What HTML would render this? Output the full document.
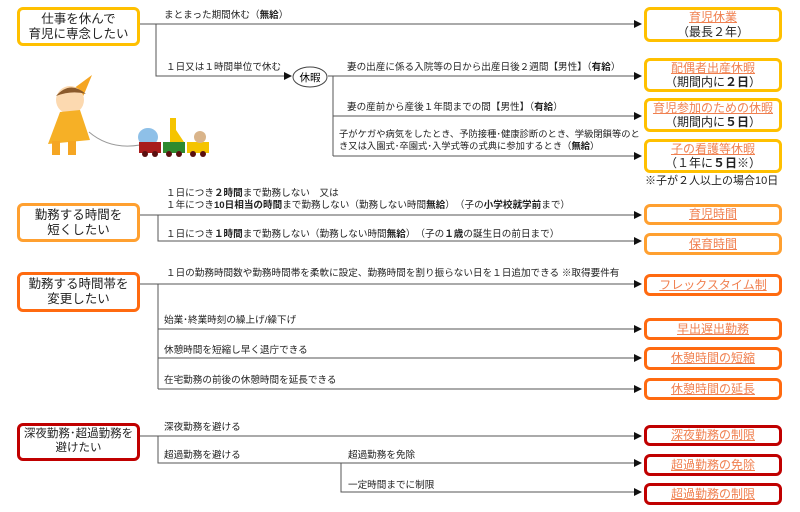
<!DOCTYPE html>
<html><head><meta charset="utf-8"><style>
body{margin:0;width:800px;height:512px;background:#fff;position:relative;overflow:hidden;font-family:"Liberation Sans","Noto Sans CJK JP",sans-serif;color:#222}
.b{position:absolute;box-sizing:border-box;border-radius:6px;background:#fff;display:flex;flex-direction:column;align-items:center;justify-content:center;text-align:center;line-height:1.2}
.L{font-size:12.5px}
.y{border:3px solid #FFC000}
.o1{border:3px solid #FFA030}
.o2{border:3px solid #FF6A10}
.r{border:3px solid #C00000}
.R{font-size:12px}
.R u{color:#F08050;text-decoration:underline}
.t{position:absolute;font-size:9.6px;white-space:nowrap;line-height:1.25}
</style></head><body>
<svg width="800" height="512" style="position:absolute;left:0;top:0">
<defs><marker id="a" markerWidth="8" markerHeight="8" refX="7" refY="4" orient="auto" markerUnits="userSpaceOnUse"><path d="M0,0 L8,4 L0,8z" fill="#111"/></marker></defs>
<g stroke="#555" stroke-width="1" fill="none">
<line x1="140" y1="24" x2="641" y2="24" marker-end="url(#a)"/>
<polyline points="156,24 156,76 291,76" marker-end="url(#a)"/>
<line x1="328" y1="76" x2="641" y2="76" marker-end="url(#a)"/>
<line x1="333" y1="76" x2="333" y2="156"/>
<line x1="333" y1="116" x2="641" y2="116" marker-end="url(#a)"/>
<line x1="333" y1="156" x2="641" y2="156" marker-end="url(#a)"/>
<line x1="140" y1="215" x2="641" y2="215" marker-end="url(#a)"/>
<polyline points="158,215 158,241 641,241" marker-end="url(#a)"/>
<line x1="140" y1="284" x2="641" y2="284" marker-end="url(#a)"/>
<line x1="158" y1="284" x2="158" y2="389"/>
<line x1="158" y1="329" x2="641" y2="329" marker-end="url(#a)"/>
<line x1="158" y1="358" x2="641" y2="358" marker-end="url(#a)"/>
<line x1="158" y1="389" x2="641" y2="389" marker-end="url(#a)"/>
<line x1="140" y1="436" x2="641" y2="436" marker-end="url(#a)"/>
<polyline points="158,436 158,463 641,463" marker-end="url(#a)"/>
<polyline points="341,463 341,492 641,492" marker-end="url(#a)"/>
</g>
<ellipse cx="310" cy="77" rx="17" ry="10" fill="#fff" stroke="#444"/>
<text x="310" y="81" font-size="10.5" text-anchor="middle" font-family="Liberation Sans,Noto Sans CJK JP,sans-serif">休暇</text>
<!-- illustration -->
<path d="M58,100 L92,75 L80,104z" fill="#F5A623"/>
<circle cx="70" cy="100" r="14" fill="#FCD9B0"/>
<path d="M56,96 Q70,80 86,94 Q72,90 56,96z" fill="#8B5A2B"/>
<path d="M60,112 L80,110 L90,140 L48,144z" fill="#F6B026"/>
<rect x="52" y="141" width="8" height="14" fill="#F5A623"/><rect x="68" y="141" width="8" height="14" fill="#F5A623"/>
<path d="M89,132 Q110,150 140,145" stroke="#999" fill="none"/>
<ellipse cx="148" cy="137" rx="10" ry="9" fill="#8EC0E8"/>
<rect x="139" y="142" width="22" height="11" fill="#A81C1C"/>
<rect x="163" y="142" width="22" height="11" fill="#2F8A2F"/>
<rect x="187" y="142" width="22" height="11" fill="#F5C400"/>
<path d="M170,142 L170,118 L176,118 L176,130 L184,142z" fill="#F5C400"/>
<circle cx="200" cy="137" r="6" fill="#D9B48A"/>
<g fill="#5a1010"><circle cx="145" cy="154" r="3"/><circle cx="155" cy="154" r="3"/><circle cx="169" cy="154" r="3"/><circle cx="179" cy="154" r="3"/><circle cx="193" cy="154" r="3"/><circle cx="203" cy="154" r="3"/></g>
</svg>

<div class="b L y" style="left:17px;top:7px;width:123px;height:39px">仕事を休んで<br>育児に専念したい</div>
<div class="b L o1" style="left:17px;top:203px;width:123px;height:39px">勤務する時間を<br>短くしたい</div>
<div class="b L o2" style="left:17px;top:272px;width:123px;height:40px">勤務する時間帯を<br>変更したい</div>
<div class="b L r" style="left:17px;top:423px;width:123px;height:38px;font-size:11.5px">深夜勤務･超過勤務を<br>避けたい</div>

<div class="b R y" style="left:644px;top:7px;width:138px;height:35px"><u>育児休業</u><span>（最長２年）</span></div>
<div class="b R y" style="left:644px;top:58px;width:138px;height:34px"><u>配偶者出産休暇</u><span>（期間内に<b>２日</b>）</span></div>
<div class="b R y" style="left:644px;top:98px;width:138px;height:34px"><u>育児参加のための休暇</u><span>（期間内に<b>５日</b>）</span></div>
<div class="b R y" style="left:644px;top:139px;width:138px;height:34px"><u>子の看護等休暇</u><span>（１年に<b>５日</b>※）</span></div>
<div class="t" style="left:645px;top:175px;font-size:11px">※子が２人以上の場合10日</div>

<div class="b R o1" style="left:644px;top:204px;width:138px;height:21px"><u>育児時間</u></div>
<div class="b R o1" style="left:644px;top:233px;width:138px;height:22px"><u>保育時間</u></div>
<div class="b R o2" style="left:644px;top:274px;width:138px;height:22px"><u>フレックスタイム制</u></div>
<div class="b R o2" style="left:644px;top:318px;width:138px;height:22px"><u>早出遅出勤務</u></div>
<div class="b R o2" style="left:644px;top:347px;width:138px;height:23px"><u>休憩時間の短縮</u></div>
<div class="b R o2" style="left:644px;top:378px;width:138px;height:22px"><u>休憩時間の延長</u></div>
<div class="b R r" style="left:644px;top:425px;width:138px;height:21px"><u>深夜勤務の制限</u></div>
<div class="b R r" style="left:644px;top:454px;width:138px;height:22px"><u>超過勤務の免除</u></div>
<div class="b R r" style="left:644px;top:483px;width:138px;height:22px"><u>超過勤務の制限</u></div>

<div class="t" style="left:164px;top:10px">まとまった期間休む（<b>無給</b>）</div>
<div class="t" style="left:166px;top:62px">１日又は１時間単位で休む</div>
<div class="t" style="left:347px;top:62px">妻の出産に係る入院等の日から出産日後２週間【男性】（<b>有給</b>）</div>
<div class="t" style="left:347px;top:102px">妻の産前から産後１年間までの間【男性】（<b>有給</b>）</div>
<div class="t" style="left:339px;top:129px;font-size:9.3px">子がケガや病気をしたとき、予防接種･健康診断のとき、学級閉鎖等のと<br>き又は入園式･卒園式･入学式等の式典に参加するとき（<b>無給</b>）</div>
<div class="t" style="left:166px;top:188px">１日につき<b>２時間</b>まで勤務しない　又は<br>１年につき<b>10日相当の時間</b>まで勤務しない（勤務しない時間<b>無給</b>）　（子の<b>小学校就学前</b>まで）</div>
<div class="t" style="left:166px;top:229px">１日につき<b>１時間</b>まで勤務しない（勤務しない時間<b>無給</b>）　（子の<b>１歳</b>の誕生日の前日まで）</div>
<div class="t" style="left:166px;top:268px">１日の勤務時間数や勤務時間帯を柔軟に設定、勤務時間を割り振らない日を１日追加できる ※取得要件有</div>
<div class="t" style="left:164px;top:315px">始業･終業時刻の繰上げ/繰下げ</div>
<div class="t" style="left:164px;top:345px">休憩時間を短縮し早く退庁できる</div>
<div class="t" style="left:164px;top:375px">在宅勤務の前後の休憩時間を延長できる</div>
<div class="t" style="left:164px;top:422px">深夜勤務を避ける</div>
<div class="t" style="left:164px;top:450px">超過勤務を避ける</div>
<div class="t" style="left:348px;top:450px">超過勤務を免除</div>
<div class="t" style="left:348px;top:480px">一定時間までに制限</div>
</body></html>
